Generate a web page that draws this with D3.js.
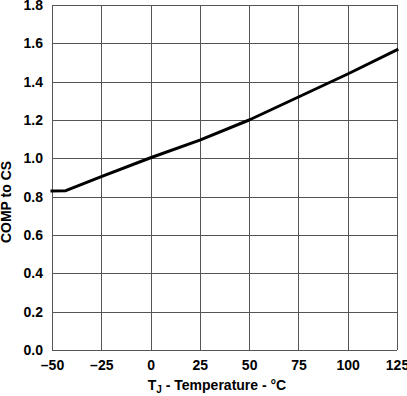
<!DOCTYPE html>
<html>
<head>
<meta charset="utf-8">
<script src="https://cdn.jsdelivr.net/npm/d3@7"></script>
<style>
  body { margin: 0; background: #fff; }
  svg text { font-family: "Liberation Sans", Arial, sans-serif; font-weight: bold; fill: #000; }
</style>
</head>
<body>
<svg width="407" height="396"></svg>
<script>
const temps = [-50, -43, -25, 0, 25, 50, 75, 100, 125]
const compToCs = [0.83, 0.831, 0.905, 1.003, 1.095, 1.2, 1.32, 1.44, 1.566]
const xTicks = [-50, -25, 0, 25, 50, 75, 100, 125]
const yTicks = [0, 0.2, 0.4, 0.6, 0.8, 1.0, 1.2, 1.4, 1.6, 1.8]

const margin = {top: 5, right: 10, bottom: 46, left: 52}
const width = 407
const height = 396

const x = d3.scaleLinear()
  .domain([-50, 125])
  .range([margin.left, width - margin.right])

const y = d3.scaleLinear()
  .domain([0, 1.8])
  .range([height - margin.bottom, margin.top])

const svg = d3.select('svg')

// grid
svg.append('g')
  .selectAll('line')
  .data(xTicks)
  .join('line')
  .attr('x1', d => Math.round(x(d)) + 0.5)
  .attr('x2', d => Math.round(x(d)) + 0.5)
  .attr('y1', y(0))
  .attr('y2', y(1.8))
  .attr('stroke', '#555')

svg.append('g')
  .selectAll('line')
  .data(yTicks)
  .join('line')
  .attr('x1', x(-50))
  .attr('x2', x(125))
  .attr('y1', d => Math.round(y(d)) + 0.5)
  .attr('y2', d => Math.round(y(d)) + 0.5)
  .attr('stroke', '#555')

const xAxis = g => g
  .attr('transform', `translate(0, ${y(0)})`)
  .call(d3.axisBottom(x).tickValues(xTicks).tickSize(0).tickPadding(10).tickFormat(d => d < 0 ? '\u2013' + Math.abs(d) : d))
  .call(g => g.select('.domain').remove())
  .call(g => g.selectAll('text').style('font-size', '14px'))

const yAxis = g => g
  .attr('transform', `translate(${margin.left}, 0)`)
  .call(d3.axisLeft(y).tickValues(yTicks).tickSize(0).tickPadding(9).tickFormat(d3.format('.1f')))
  .call(g => g.select('.domain').remove())
  .call(g => g.selectAll('text').style('font-size', '14px'))

svg.append('g').call(xAxis)
svg.append('g').call(yAxis)

// curve
const line = d3.line()
  .x((d, i) => x(temps[i]))
  .y(d => y(d))

svg.append('path')
  .datum(compToCs)
  .attr('d', line)
  .attr('fill', 'none')
  .attr('stroke', '#000')
  .attr('stroke-width', 3)
  .attr('stroke-linejoin', 'round')
  .attr('stroke-linecap', 'square')

// titles
const xt = svg.append('text')
  .attr('x', 217)
  .attr('y', 390)
  .attr('text-anchor', 'middle')
  .style('font-size', '14px')
xt.append('tspan').text('T')
xt.append('tspan').attr('dy', 3).style('font-size', '10px').text('J')
xt.append('tspan').attr('dy', -3).text(' - Temperature - \u00b0C')

svg.append('text')
  .attr('transform', 'translate(11, 202) rotate(-90)')
  .attr('text-anchor', 'middle')
  .style('font-size', '14px')
  .text('COMP to CS')
</script>
</body>
</html>
